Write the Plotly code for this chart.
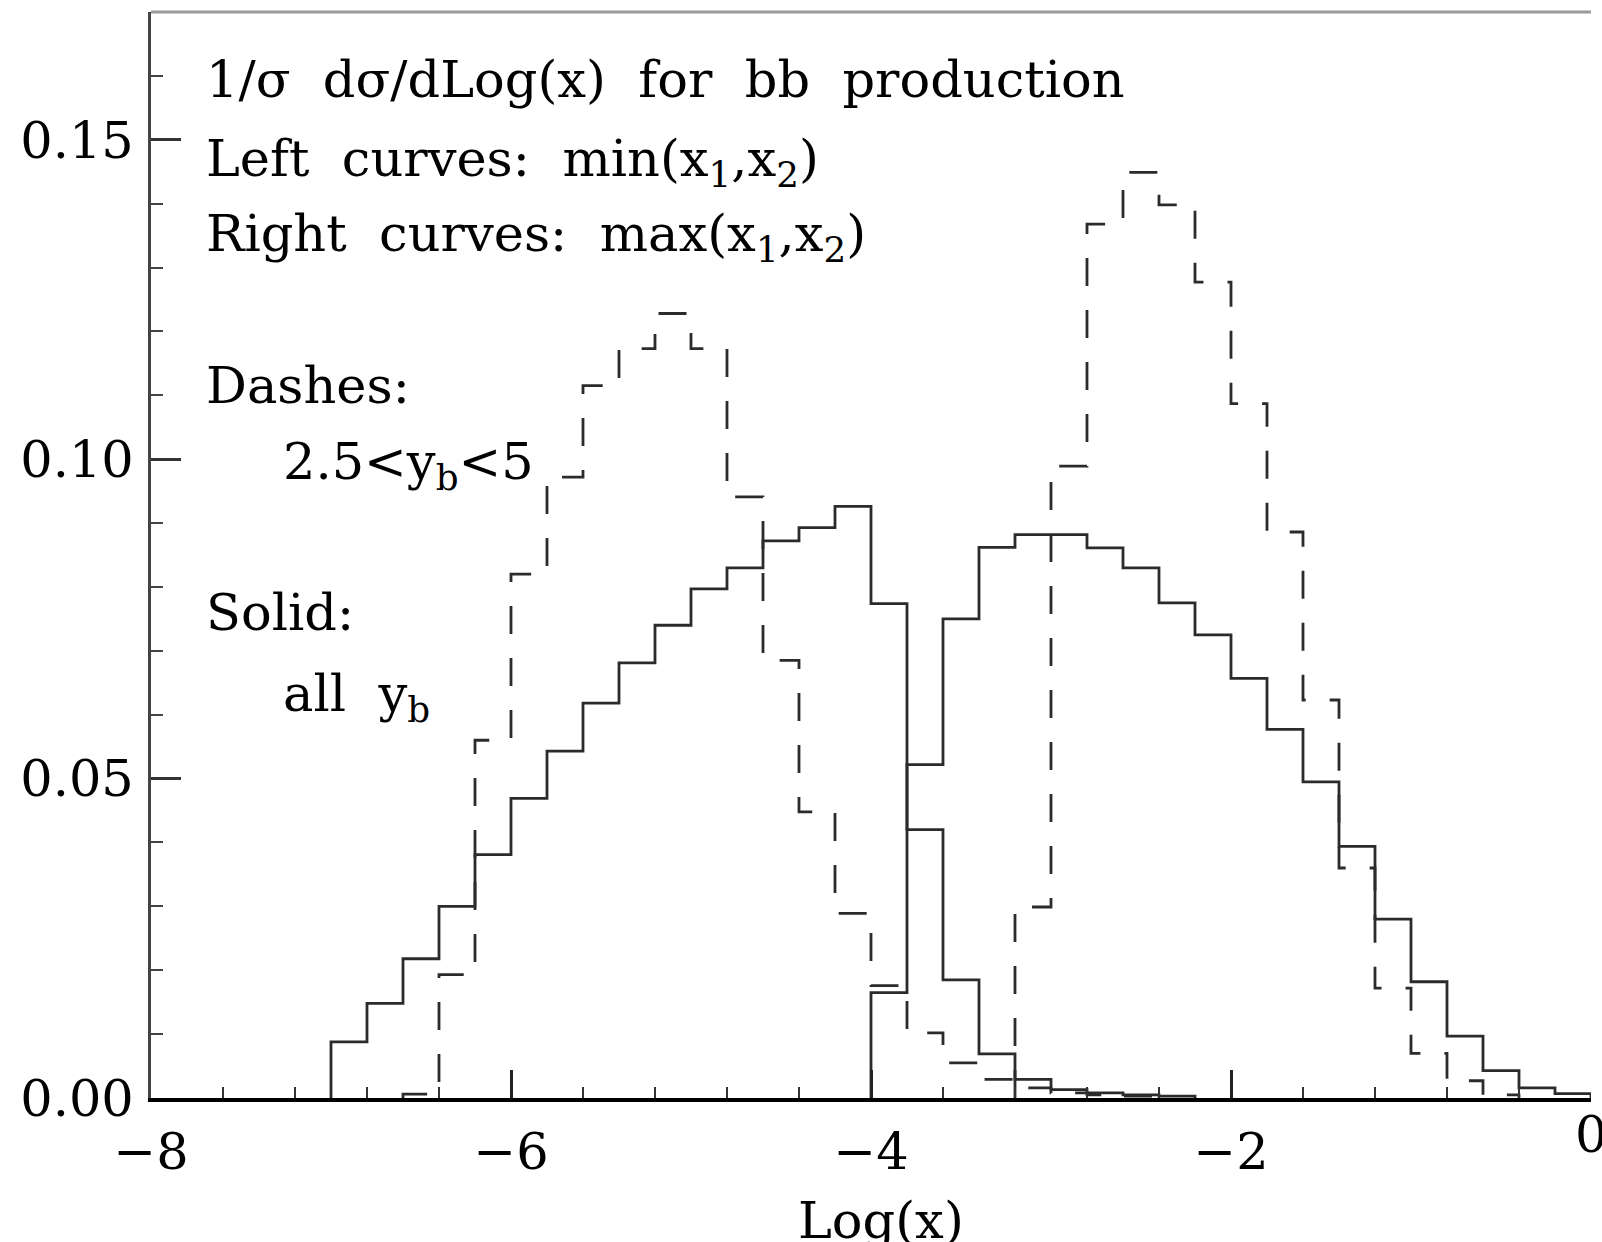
import plotly.graph_objects as go

BIN_W = 0.2

# Left curves: min(x1,x2)
solid_min_start = -7.0
solid_min_vals = [0.0088, 0.0148, 0.0218, 0.0300, 0.0381, 0.0469, 0.0543, 0.0618,
                  0.0681, 0.0740, 0.0797, 0.0830, 0.0872, 0.0893, 0.0926, 0.0774,
                  0.0420, 0.0185, 0.0069, 0.0029, 0.0013, 0.0008, 0.0005, 0.0003]

dash_min_start = -6.6
dash_min_vals = [0.0006, 0.0193, 0.0560, 0.0820, 0.0972, 0.1115, 0.1173, 0.1228,
                 0.1173, 0.0941, 0.0685, 0.0448, 0.0289, 0.0176, 0.0102, 0.0055,
                 0.0029, 0.0016, 0.0008, 0.0005, 0.0003]

# Right curves: max(x1,x2)
solid_max_start = -4.0
solid_max_vals = [0.0165, 0.0522, 0.0750, 0.0862, 0.0882, 0.0882, 0.0861, 0.0830,
                  0.0775, 0.0725, 0.0657, 0.0577, 0.0495, 0.0394, 0.0280, 0.0182,
                  0.0097, 0.0043, 0.0016, 0.0007]

dash_max_start = -3.2
dash_max_vals = [0.0299, 0.0989, 0.1368, 0.1449, 0.1398, 0.1277, 0.1087, 0.0886,
                 0.0623, 0.0360, 0.0172, 0.0070, 0.0027, 0.0005]

x_tick_vals = [-8, -6, -4, -2]
x_edge_tick = 0
y_ticks = [0.0, 0.05, 0.10, 0.15]

LINE_COLOR = "#2b2b2b"
FONT = "DejaVu Serif"
TXT = 51
SP = " \u00a0"  # wide word spacing as in the original


def step_xy(start, vals):
    edges = [round(start + i * BIN_W, 4) for i in range(len(vals) + 1)]
    xs = [edges[0]] + edges + [edges[-1]]
    ys = [0.0] + list(vals) + [vals[-1], 0.0]
    return xs, ys


fig = go.Figure()
for start, vals, dash in [
    (solid_min_start, solid_min_vals, "solid"),
    (solid_max_start, solid_max_vals, "solid"),
    (dash_min_start, dash_min_vals, "28px,24px"),
    (dash_max_start, dash_max_vals, "28px,24px"),
]:
    xs, ys = step_xy(start, vals)
    fig.add_trace(go.Scatter(x=xs, y=ys, mode="lines", line_shape="hv",
                             line=dict(color=LINE_COLOR, width=2.8, dash=dash),
                             showlegend=False, hoverinfo="skip"))

fig.update_layout(
    width=1602, height=1242,
    margin=dict(l=151, r=11, t=12, b=144),
    paper_bgcolor="white", plot_bgcolor="white",
    font=dict(family=FONT, size=TXT, color="black"),
    showlegend=False,
    xaxis=dict(range=[-8, 0], tickvals=x_tick_vals, ticks="inside", ticklen=28, tickwidth=2.5,
               tickcolor="#222", showline=True, linecolor="black", linewidth=4,
               showgrid=False, zeroline=False, ticklabelstandoff=6,
               tickfont=dict(family=FONT, size=TXT),
               minor=dict(dtick=0.4, ticks="inside", ticklen=11, tickwidth=2.2, tickcolor="#333")),
    yaxis=dict(range=[0, 0.17], tickvals=y_ticks, tickformat=".2f", ticks="inside", ticklen=30,
               tickwidth=2.5, tickcolor="#333", showline=True, linecolor="#444", linewidth=3,
               showgrid=False, zeroline=False, ticklabelstandoff=4,
               tickfont=dict(family=FONT, size=TXT),
               minor=dict(dtick=0.01, ticks="inside", ticklen=12, tickwidth=2.2, tickcolor="#444")),
    yaxis2=dict(range=[0, 0.17], overlaying="y", side="right", tickvals=y_ticks, ticks="inside",
                ticklen=32, tickwidth=2.5, tickcolor="#555", showline=True, linecolor="#999",
                linewidth=3, showgrid=False, zeroline=False, showticklabels=False,
                minor=dict(dtick=0.01, ticks="inside", ticklen=16, tickwidth=2.2, tickcolor="#555")),
)

# top border
fig.add_shape(type="line", xref="paper", yref="paper", x0=0, x1=1, y0=1, y1=1,
              line=dict(color="#999", width=3))

# the "0" tick label at the right end (cut off by the page edge as in the original)
fig.add_annotation(text="0", x=x_edge_tick, y=0, xref="x", yref="y", yshift=-36,
                   xanchor="center", yanchor="middle", showarrow=False,
                   font=dict(family=FONT, size=TXT, color="black"))

labels = [
    (f"1/σ{SP}dσ/dLog(x){SP}for{SP}bb{SP}production", 0.037, 0.9377),
    (f"Left{SP}curves:{SP}min(x<sub>1</sub>,x<sub>2</sub>)", 0.037, 0.862),
    (f"Right{SP}curves:{SP}max(x<sub>1</sub>,x<sub>2</sub>)", 0.037, 0.793),
    ("Dashes:", 0.037, 0.656),
    ("2.5<y<sub>b</sub><5", 0.090, 0.583),
    ("Solid:", 0.037, 0.447),
    (f"all{SP}y<sub>b</sub>", 0.090, 0.369),
]
for txt, xp, yp in labels:
    fig.add_annotation(text=txt, x=xp, y=yp, xref="paper", yref="paper",
                       xanchor="left", yanchor="middle", showarrow=False,
                       font=dict(family=FONT, size=TXT, color="black"))

fig.add_annotation(text="Log(x)", x=0.507, y=-0.113, xref="paper", yref="paper",
                   xanchor="center", yanchor="middle", showarrow=False,
                   font=dict(family=FONT, size=TXT, color="black"))

fig.write_html("out.html")
